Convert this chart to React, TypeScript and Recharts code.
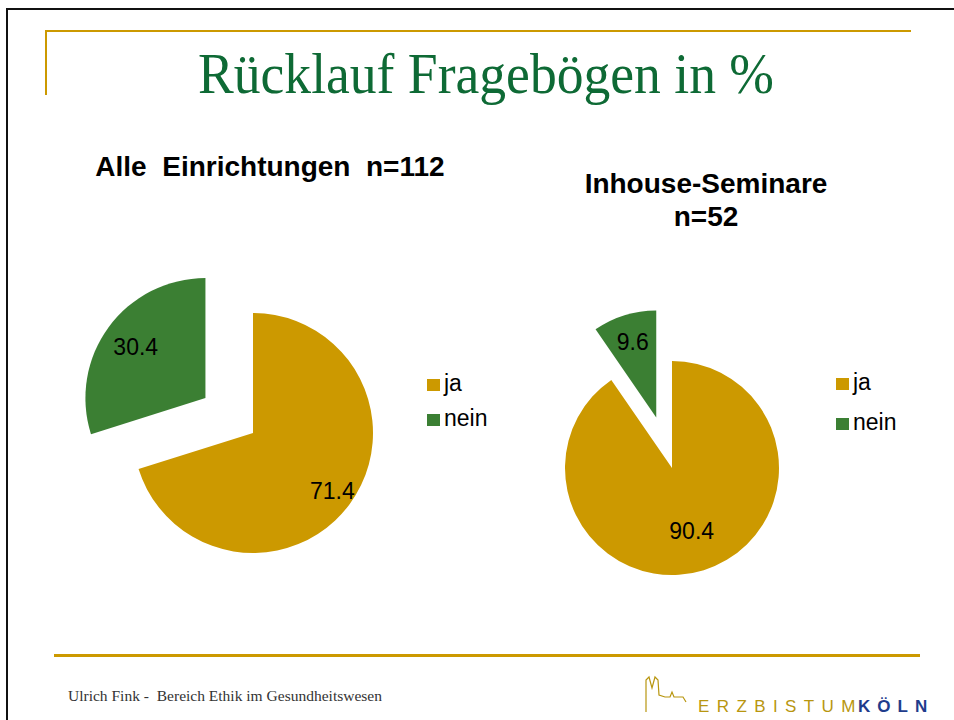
import { PieChart, Pie, Cell } from "recharts";

const categories = ["ja", "nein"];
const alleValues = [71.4, 30.4];
const inhouseValues = [90.4, 9.6];
const alleTitle = ["Alle  Einrichtungen  n=112"];
const inhouseTitle = ["Inhouse-Seminare", "n=52"];

const GOLD = "#CC9900";
const GREEN = "#3B7F33";
const colors = [GOLD, GREEN];
const RAD = Math.PI / 180;

// mid angle (recharts convention, deg ccw from 3 o'clock) of one slice
function midAngle(values: number[], idx: number) {
  const total = values.reduce((a, b) => a + b, 0);
  const before = values.slice(0, idx).reduce((a, b) => a + b, 0);
  return 90 - (360 * (before + values[idx] / 2)) / total;
}

function makeLabel(visibleIdx: number, factor: number) {
  return (props: any) => {
    if (props.index !== visibleIdx) return null;
    const r = props.outerRadius * factor;
    const x = props.cx + r * Math.cos(-props.midAngle * RAD);
    const y = props.cy + r * Math.sin(-props.midAngle * RAD);
    return (
      <text
        x={x}
        y={y}
        textAnchor="middle"
        dominantBaseline="central"
        fill="#000"
        fontSize={23}
        fontFamily="'Liberation Sans', Arial, sans-serif"
      >
        {props.value}
      </text>
    );
  };
}

// one pie with one exploded slice = two Pie layers
function explodedPie(
  key: string,
  values: number[],
  cx: number,
  cy: number,
  r: number,
  explodeIdx: number,
  explodeDist: number,
  baseLabel: number,
  outLabel: number
) {
  const data = categories.map((name, i) => ({ name, value: values[i] }));
  const mid = midAngle(values, explodeIdx);
  const ox = explodeDist * Math.cos(mid * RAD);
  const oy = -explodeDist * Math.sin(mid * RAD);
  return [
    <Pie
      key={key + "-base"}
      data={data}
      dataKey="value"
      cx={cx}
      cy={cy}
      outerRadius={r}
      startAngle={90}
      endAngle={-270}
      stroke="none"
      isAnimationActive={false}
      labelLine={false}
      label={makeLabel(1 - explodeIdx, baseLabel)}
    >
      {data.map((d, i) => (
        <Cell key={i} fill={i === explodeIdx ? "transparent" : colors[i]} />
      ))}
    </Pie>,
    <Pie
      key={key + "-out"}
      data={data}
      dataKey="value"
      cx={cx + ox}
      cy={cy + oy}
      outerRadius={r}
      startAngle={90}
      endAngle={-270}
      stroke="none"
      isAnimationActive={false}
      labelLine={false}
      label={makeLabel(explodeIdx, outLabel)}
    >
      {data.map((d, i) => (
        <Cell key={i} fill={i === explodeIdx ? colors[i] : "transparent"} />
      ))}
    </Pie>,
  ];
}

function Legend({ x, y, gap }: { x: number; y: number; gap: number }) {
  return (
    <g fontFamily="'Liberation Sans', Arial, sans-serif" fontSize={23}>
      {categories.map((c, i) => (
        <g key={c}>
          <rect x={x} y={y + i * gap - 12} width={13} height={12} fill={colors[i]} />
          <text x={x + 17} y={y + i * gap} fill="#000">
            {c}
          </text>
        </g>
      ))}
    </g>
  );
}

export default function App() {
  return (
    <div style={{ position: "absolute", left: 0, top: 0, width: 954, height: 720, background: "#fff", overflow: "hidden" }}>
      <svg width={954} height={720} style={{ position: "absolute", left: 0, top: 0 }}>
        {/* slide frame */}
        <rect x={6} y={8} width={954} height={2} fill="#111" />
        <rect x={6} y={8} width={2} height={720} fill="#111" />
        {/* gold corner decoration */}
        <rect x={45} y={30} width={866} height={2} fill={GOLD} />
        <rect x={45} y={30} width={2} height={65} fill={GOLD} />
        <text
          x={486}
          y={93}
          textAnchor="middle"
          fill="#0E6A35"
          fontSize={56}
          textLength={576}
          lengthAdjust="spacingAndGlyphs"
          fontFamily="'Liberation Serif', 'DejaVu Serif', serif"
        >
          Rücklauf Fragebögen in %
        </text>
        <g fontFamily="'Liberation Sans', Arial, sans-serif" fontWeight="bold" fontSize={28} fill="#000" textAnchor="middle">
          {alleTitle.map((t, i) => (
            <text key={t} x={270} y={176 + i * 33} style={{ whiteSpace: "pre" }}>
              {t}
            </text>
          ))}
          {inhouseTitle.map((t, i) => (
            <text key={t} x={706} y={193 + i * 33}>
              {t}
            </text>
          ))}
        </g>
        <Legend x={427} y={391} gap={35} />
        <Legend x={836} y={390} gap={40} />
        {/* footer */}
        <rect x={54} y={654} width={866} height={3} fill={GOLD} />
        <text
          x={68}
          y={701}
          fontSize={14}
          fill="#333"
          textLength={314}
          lengthAdjust="spacingAndGlyphs"
          style={{ whiteSpace: "pre" }}
          fontFamily="'Liberation Serif', 'DejaVu Serif', serif"
        >
          Ulrich Fink -  Bereich Ethik im Gesundheitswesen
        </text>
        <polyline
          points="646,712 646,680 649,677 652,688 655,677 658,680 659,695 665,697 670,697 672,692 674,697 683,697 686,702"
          fill="none"
          stroke="#B8960F"
          strokeWidth={1.2}
        />
        <text x={698} y={712} fontSize={17} fill="#B8960F" letterSpacing={7.4} fontFamily="'Liberation Sans', Arial, sans-serif">
          ERZBISTUM
        </text>
        <text x={858} y={712} fontSize={17} fontWeight="bold" fill="#1F3C8C" letterSpacing={7} fontFamily="'Liberation Sans', Arial, sans-serif">
          KÖLN
        </text>
      </svg>
      <div style={{ position: "absolute", left: 0, top: 0 }}>
        <PieChart width={954} height={720} margin={{ top: 0, right: 0, bottom: 0, left: 0 }}>
          {explodedPie("alle", alleValues, 253, 433, 120, 1, 59, 0.82, 0.72)}
          {explodedPie("inhouse", inhouseValues, 672, 468, 107, 1, 53, 0.62, 0.74)}
        </PieChart>
      </div>
    </div>
  );
}
